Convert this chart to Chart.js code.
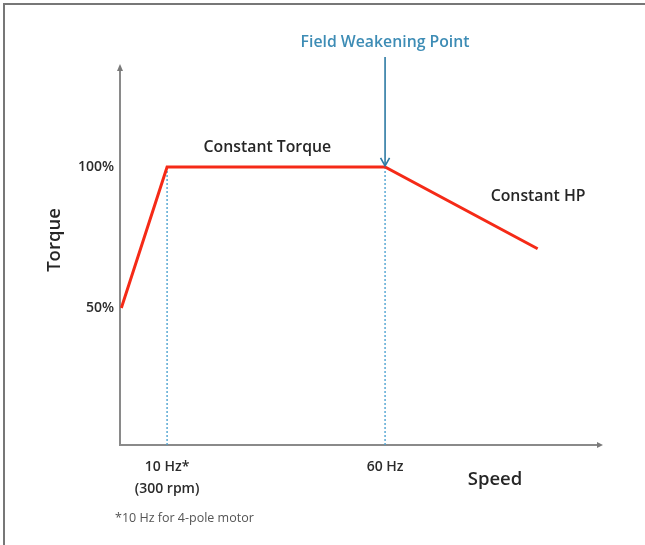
<!DOCTYPE html>
<html>
<head>
<meta charset="utf-8">
<script src="https://cdn.jsdelivr.net/npm/chart.js@4/dist/chart.umd.min.js"></script>
<style>
  html, body { margin: 0; padding: 0; background: #fff; }
  #wrap { position: relative; width: 645px; height: 545px; }
  #frame { position: absolute; left: 3px; top: 3px; width: 642px; height: 542px;
           border-top: 2px solid #777; border-left: 2px solid #777; box-sizing: border-box; }
  canvas { position: absolute; left: 0; top: 0; }
</style>
</head>
<body>
<div id="wrap">
  <div id="frame"></div>
  <canvas id="c" width="645" height="545"></canvas>
</div>
<script>
// ---- data ----
const speedHz    = [-0.5, 10, 60, 95];
const torquePct  = [50, 100, 100, 71];

const xTickValues = [10, 60];
const xTickLabels = [["10 Hz*", "(300 rpm)"], "60 Hz"];
const yTickValues = [50, 100];
const yTickLabels = ["50%", "100%"];

const markerSpeeds = [10, 60];      // dotted verticals
const markerTorque = [1.4, 100];    // from axis to 100 %

const arrowSpeed  = [60, 60];       // field weakening arrow
const arrowTorque = [139, 100];

const xRange = [-0.8, 109.3];
const yRange = [1.4, 135.1];

const labels = [
  { text: "Constant Torque", x: 33,   y: 107,  size: 15.8, color: "#262626", weight: "600" },
  { text: "Constant HP",     x: 95.1, y: 89.4, size: 15.8, color: "#262626", weight: "600" },
  { text: "Field Weakening Point", x: 60, y: 144, size: 15.8, color: "#3d8cb5", weight: "600" }
];

const FONT = "'Open Sans', 'DejaVu Sans', sans-serif";

const markerDatasets = markerSpeeds.map(s => ({
  data: markerTorque.map(t => ({ x: s, y: t })),
  borderColor: "#4fa3d1",
  borderWidth: 1.4,
  borderDash: [2, 2],
  pointRadius: 0,
  order: 2
}));

const annotate = {
  id: "annotate",
  afterDatasetsDraw(chart) {
    const { ctx, scales: { x, y }, chartArea: a } = chart;
    ctx.save();
    // axis arrowheads
    ctx.fillStyle = "#7a7a7a";
    ctx.beginPath();
    ctx.moveTo(a.left, a.top - 4);
    ctx.lineTo(a.left - 3, a.top + 3);
    ctx.lineTo(a.left + 3, a.top + 3);
    ctx.closePath(); ctx.fill();
    ctx.beginPath();
    ctx.moveTo(a.right + 3, a.bottom);
    ctx.lineTo(a.right - 3, a.bottom - 3);
    ctx.lineTo(a.right - 3, a.bottom + 3);
    ctx.closePath(); ctx.fill();

    // field weakening arrow
    const ax = x.getPixelForValue(arrowSpeed[0]);
    const y0 = y.getPixelForValue(arrowTorque[0]);
    const y1 = y.getPixelForValue(arrowTorque[1]);
    ctx.strokeStyle = "#2c7aa3";
    ctx.lineWidth = 1.6;
    ctx.beginPath(); ctx.moveTo(ax, y0); ctx.lineTo(ax, y1 - 2); ctx.stroke();
    ctx.beginPath();
    ctx.moveTo(ax - 4.5, y1 - 9);
    ctx.lineTo(ax, y1 - 1);
    ctx.lineTo(ax + 4.5, y1 - 9);
    ctx.stroke();

    // text labels
    ctx.textAlign = "center";
    ctx.textBaseline = "middle";
    labels.forEach(l => {
      ctx.font = `${l.weight} ${l.size}px ${FONT}`;
      ctx.fillStyle = l.color;
      ctx.fillText(l.text, x.getPixelForValue(l.x), y.getPixelForValue(l.y));
    });

    // axis titles
    ctx.fillStyle = "#262626";
    ctx.font = `600 18.5px ${FONT}`;
    ctx.fillText("Speed", 495, 480);
    ctx.save();
    ctx.translate(55, 240);
    ctx.rotate(-Math.PI / 2);
    ctx.fillText("Torque", 0, 0);
    ctx.restore();

    // footnote
    ctx.textAlign = "left";
    ctx.font = `400 12.5px ${FONT}`;
    ctx.fillStyle = "#555";
    ctx.fillText("*10 Hz for 4-pole motor", 115, 518);
    ctx.restore();
  }
};

new Chart(document.getElementById("c"), {
  type: "line",
  data: {
    datasets: [
      {
        data: speedHz.map((s, i) => ({ x: s, y: torquePct[i] })),
        borderColor: "#f52a17",
        borderWidth: 3,
        pointRadius: 0,
        tension: 0,
        order: 1
      },
      ...markerDatasets
    ]
  },
  options: {
    responsive: false,
    animation: false,
    events: [],
    layout: { padding: { top: 68, right: 45, left: 0, bottom: 0 } },
    plugins: { legend: { display: false }, tooltip: { enabled: false } },
    scales: {
      x: {
        type: "linear",
        min: xRange[0], max: xRange[1],
        grid: { display: false, drawTicks: false },
        border: { display: true, color: "#8a8a8a", width: 2 },
        afterFit(s) { s.height = 100; },
        afterBuildTicks(s) { s.ticks = xTickValues.map(v => ({ value: v })); },
        ticks: {
          autoSkip: false, maxRotation: 0, padding: 11,
          color: "#2b2b2b",
          font: { family: FONT, size: 14, weight: "600", lineHeight: 1.57 },
          callback: (v) => { const i = xTickValues.indexOf(v); return i >= 0 ? xTickLabels[i] : ""; }
        }
      },
      y: {
        type: "linear",
        min: yRange[0], max: yRange[1],
        grid: { display: false, drawTicks: false },
        border: { display: true, color: "#8a8a8a", width: 2 },
        afterFit(s) { s.width = 120; },
        afterBuildTicks(s) { s.ticks = yTickValues.map(v => ({ value: v })); },
        ticks: {
          autoSkip: false, padding: 6,
          color: "#2b2b2b",
          font: { family: FONT, size: 14, weight: "600" },
          callback: (v) => { const i = yTickValues.indexOf(v); return i >= 0 ? yTickLabels[i] : ""; }
        }
      }
    }
  },
  plugins: [annotate]
});
</script>
</body>
</html>
